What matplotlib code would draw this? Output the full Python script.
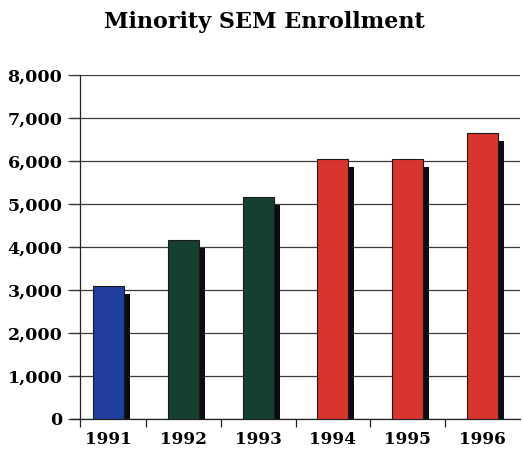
import matplotlib.pyplot as plt
from matplotlib.transforms import ScaledTranslation

years = ["1991", "1992", "1993", "1994", "1995", "1996"]
enrollment = [3100, 4150, 5150, 6040, 6040, 6640]
bar_colors = ["#1e3f9e", "#15402f", "#15402f", "#d8352e", "#d8352e", "#d8352e"]
y_ticks = [0, 1000, 2000, 3000, 4000, 5000, 6000, 7000, 8000]

fig = plt.figure(figsize=(5.22, 4.51), dpi=100)
ax = fig.add_axes([71 / 522, 1 - 418.7 / 451, 449 / 522, 343.7 / 451])

# move the spine first: set_position resets the tick labels
ax.spines["left"].set_position(("data", -0.38))
ax.spines["left"].set_bounds(0, 8000)
ax.spines["right"].set_visible(False)
ax.spines["top"].set_visible(False)
for s in ("left", "bottom"):
    ax.spines[s].set_linewidth(0.9)
    ax.spines[s].set_color("#222222")

x = range(len(years))
width = 0.415

# drop shadow: same bars shifted right and down
shadow = ax.transData + ScaledTranslation(6 / 100, -8 / 100, fig.dpi_scale_trans)
ax.bar(x, enrollment, width=width, color="#0b0b14", transform=shadow, zorder=2)
ax.bar(x, enrollment, width=width, color=bar_colors, edgecolor="#1a1a1a",
       linewidth=0.8, zorder=3)

ax.set_xlim(-0.5, 5.5)
ax.set_ylim(0, 8000)

ax.set_yticks(y_ticks)
ax.set_yticklabels([f"{v:,}" for v in y_ticks], fontfamily="DejaVu Serif",
                   fontweight="bold", fontsize=12.5)
# labels sit a little above their gridlines
lift = ScaledTranslation(0, 2.5 / 100, fig.dpi_scale_trans)
for lbl in ax.get_yticklabels():
    lbl.set_transform(lbl.get_transform() + lift)
ax.yaxis.grid(True, color="#3a3a3a", linewidth=0.9, zorder=0)
ax.set_axisbelow(True)
ax.tick_params(axis="y", length=8.6, width=0.9, color="#3a3a3a", pad=4)

# category boundaries as ticks, labels at centers
ax.set_xticks([-0.38, 0.5, 1.5, 2.5, 3.5, 4.5])
ax.set_xticklabels([])
ax.set_xticks(list(x), minor=True)
ax.set_xticklabels(years, minor=True, fontfamily="DejaVu Serif",
                   fontweight="bold", fontsize=12.2)
ax.tick_params(axis="x", which="major", length=5.5, width=0.9, color="#222222")
ax.tick_params(axis="x", which="minor", length=0, pad=9)

fig.text(0.506, 1 - 28 / 451, "Minority SEM Enrollment", ha="center",
         va="baseline", fontfamily="DejaVu Serif", fontweight="bold",
         fontsize=16)

fig.savefig("out.png", dpi=100)
